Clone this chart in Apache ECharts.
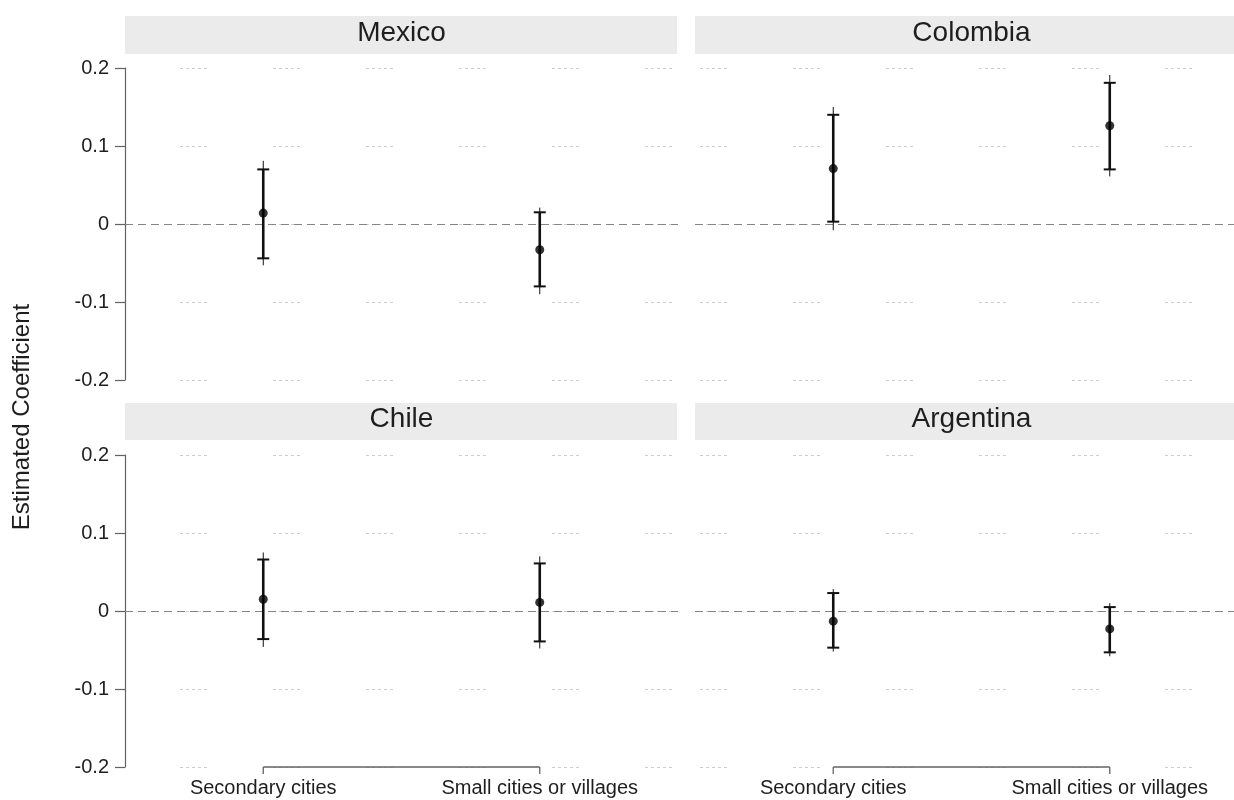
<!DOCTYPE html>
<html>
<head>
<meta charset="utf-8">
<title>Estimated Coefficient by country</title>
<script src="https://cdn.jsdelivr.net/npm/echarts@6/dist/echarts.min.js"></script>
<style>
  html, body { margin: 0; padding: 0; background: #fff; }
  #chart { width: 1234px; height: 800px; }
</style>
</head>
<body>
<div id="chart"></div>
<script>
// Facet panels, in reading order
const countries = ['Mexico', 'Colombia', 'Chile', 'Argentina'];
const categories = ['Secondary cities', 'Small cities or villages'];
const yTicks = [-0.2, -0.1, 0, 0.1, 0.2];

// Point estimates per country (Secondary cities, Small cities or villages)
const estMexico    = [0.014, -0.033];
const estColombia  = [0.071, 0.126];
const estChile     = [0.015, 0.011];
const estArgentina = [-0.013, -0.023];

// Inner (capped) interval bounds
const lo90Mexico    = [-0.044, -0.080];
const hi90Mexico    = [0.070, 0.015];
const lo90Colombia  = [0.003, 0.070];
const hi90Colombia  = [0.140, 0.181];
const lo90Chile     = [-0.036, -0.039];
const hi90Chile     = [0.066, 0.061];
const lo90Argentina = [-0.047, -0.053];
const hi90Argentina = [0.023, 0.005];

// Outer (thin) interval bounds
const lo95Mexico    = [-0.053, -0.090];
const hi95Mexico    = [0.081, 0.021];
const lo95Colombia  = [-0.008, 0.061];
const hi95Colombia  = [0.150, 0.191];
const lo95Chile     = [-0.046, -0.048];
const hi95Chile     = [0.075, 0.070];
const lo95Argentina = [-0.052, -0.058];
const hi95Argentina = [0.028, 0.010];

const panels = [
  { est: estMexico,    lo90: lo90Mexico,    hi90: hi90Mexico,    lo95: lo95Mexico,    hi95: hi95Mexico },
  { est: estColombia,  lo90: lo90Colombia,  hi90: hi90Colombia,  lo95: lo95Colombia,  hi95: hi95Colombia },
  { est: estChile,     lo90: lo90Chile,     hi90: hi90Chile,     lo95: lo95Chile,     hi95: hi95Chile },
  { est: estArgentina, lo90: lo90Argentina, hi90: hi90Argentina, lo95: lo95Argentina, hi95: hi95Argentina }
];

const FONT = '"Liberation Sans", Arial, Helvetica, sans-serif';

// Panel geometry (the right-hand column runs past the canvas edge)
const gridBoxes = [
  { left: 125, top: 68,  width: 553, height: 312 },
  { left: 695, top: 68,  width: 553, height: 312 },
  { left: 125, top: 455, width: 553, height: 312 },
  { left: 695, top: 455, width: 553, height: 312 }
];
const stripBoxes = [
  { x: 125, y: 16,  w: 552, h: 38 },
  { x: 695, y: 16,  w: 560, h: 38 },
  { x: 125, y: 403, w: 552, h: 37 },
  { x: 695, y: 403, w: 560, h: 37 }
];
const gridDashOffset = [38, 88, 38, 88];
const AXIS_GREY = '#626262';

const chart = echarts.init(document.getElementById('chart'), null, { renderer: 'canvas' });

const grids = [], xAxes = [], yAxes = [], series = [], graphics = [];

panels.forEach((p, i) => {
  const isLeft = i % 2 === 0;
  const isBottom = i >= 2;
  grids.push(Object.assign({ containLabel: false, outerBoundsMode: 'none' }, gridBoxes[i]));

  xAxes.push({
    type: 'category',
    gridIndex: i,
    data: categories,
    boundaryGap: true,
    axisLine: { show: false },
    axisTick: { show: false },
    axisLabel: {
      show: isBottom, margin: 11, fontFamily: FONT, fontSize: 20, color: '#1e1e1e'
    },
    splitLine: { show: false }
  });

  yAxes.push({
    type: 'value',
    gridIndex: i,
    min: -0.2, max: 0.2, interval: 0.1,
    axisLine: { show: isLeft, lineStyle: { color: AXIS_GREY, width: 1.2 } },
    axisTick: { show: isLeft, length: 10, lineStyle: { color: AXIS_GREY, width: 1.2 } },
    axisLabel: {
      show: isLeft, margin: 16, fontFamily: FONT, fontSize: 20, color: '#1e1e1e',
      formatter: v => {
        const t = yTicks.find(k => Math.abs(k - v) < 1e-9);
        return t === undefined ? '' : String(t);
      }
    },
    splitLine: {
      show: true,
      lineStyle: {
        color: '#cdcdcd', width: 1,
        type: [3, 3, 3, 3, 3, 3, 3, 3, 3, 66],
        dashOffset: gridDashOffset[i]
      }
    }
  });

  // interval bars: thin outer line, thick capped inner line
  const barData = categories.map((c, k) => [k, p.est[k], p.lo90[k], p.hi90[k], p.lo95[k], p.hi95[k]]);
  series.push({
    type: 'custom',
    xAxisIndex: i, yAxisIndex: i,
    silent: true,
    z: 3,
    data: barData,
    renderItem: (params, api) => {
      const x = api.value(0);
      const pLo95 = api.coord([x, api.value(4)]);
      const pHi95 = api.coord([x, api.value(5)]);
      const pLo90 = api.coord([x, api.value(2)]);
      const pHi90 = api.coord([x, api.value(3)]);
      const cap = 6;
      const col = '#111';
      return {
        type: 'group',
        children: [
          { type: 'line', shape: { x1: pLo95[0], y1: pLo95[1], x2: pHi95[0], y2: pHi95[1] },
            style: { stroke: col, lineWidth: 1 } },
          { type: 'line', shape: { x1: pLo90[0], y1: pLo90[1], x2: pHi90[0], y2: pHi90[1] },
            style: { stroke: col, lineWidth: 2.6 } },
          { type: 'line', shape: { x1: pHi90[0] - cap, y1: pHi90[1], x2: pHi90[0] + cap, y2: pHi90[1] },
            style: { stroke: col, lineWidth: 2 } },
          { type: 'line', shape: { x1: pLo90[0] - cap, y1: pLo90[1], x2: pLo90[0] + cap, y2: pLo90[1] },
            style: { stroke: col, lineWidth: 2 } }
        ]
      };
    }
  });

  // point estimates, plus the zero reference line
  series.push({
    type: 'scatter',
    xAxisIndex: i, yAxisIndex: i,
    silent: true,
    z: 4,
    symbol: 'circle',
    symbolSize: 9,
    itemStyle: { color: '#000' },
    data: categories.map((c, k) => [k, p.est[k]]),
    markLine: {
      silent: true,
      symbol: 'none',
      label: { show: false },
      lineStyle: { color: '#858585', width: 1.2, type: [8, 5] },
      data: [{ yAxis: 0 }],
      z: 2
    }
  });

  // category axis under the bottom panels: a bracket between the two categories
  if (isBottom) {
    series.push({
      type: 'line',
      xAxisIndex: i, yAxisIndex: i,
      silent: true,
      clip: false,
      symbol: 'none',
      lineStyle: { color: AXIS_GREY, width: 1.3 },
      data: categories.map((c, k) => [k, -0.2]),
      z: 2
    });
    series.push({
      type: 'custom',
      xAxisIndex: i, yAxisIndex: i,
      silent: true,
      clip: false,
      z: 2,
      data: categories.map((c, k) => [k, -0.2]),
      renderItem: (params, api) => {
        const pt = api.coord([api.value(0), api.value(1)]);
        return {
          type: 'line',
          shape: { x1: pt[0], y1: pt[1], x2: pt[0], y2: pt[1] + 7 },
          style: { stroke: AXIS_GREY, lineWidth: 1.3 }
        };
      }
    });
  }

  // facet strip
  const s = stripBoxes[i];
  graphics.push({
    type: 'group',
    silent: true,
    children: [
      { type: 'rect', shape: { x: s.x, y: s.y, width: s.w, height: s.h },
        style: { fill: '#ebebeb' } },
      { type: 'text', x: gridBoxes[i].left + gridBoxes[i].width / 2,
        y: s.y + s.h / 2 - 2,
        style: { text: countries[i], font: '28px ' + FONT, fill: '#1e1e1e',
                 textAlign: 'center', textVerticalAlign: 'middle' } }
    ]
  });
});

graphics.push({
  type: 'text',
  silent: true,
  x: 22, y: 417,
  rotation: Math.PI / 2,
  style: { text: 'Estimated Coefficient', font: '24px ' + FONT, fill: '#1e1e1e',
           textAlign: 'center', textVerticalAlign: 'middle' }
});

chart.setOption({
  backgroundColor: '#ffffff',
  animation: false,
  grid: grids,
  xAxis: xAxes,
  yAxis: yAxes,
  series: series,
  graphic: graphics
});
</script>
</body>
</html>
